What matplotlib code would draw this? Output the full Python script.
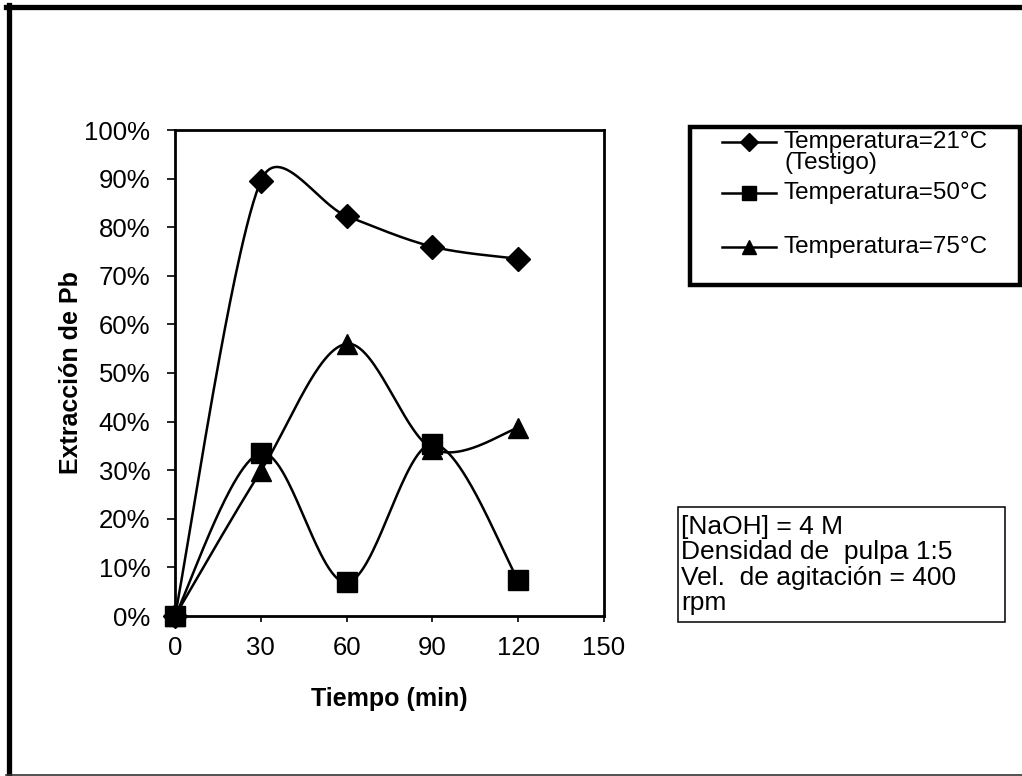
import numpy as np
import matplotlib.pyplot as plt
from matplotlib.lines import Line2D
from matplotlib.patches import Rectangle
from matplotlib.ticker import PercentFormatter

plt.rcParams['font.family'] = ['Liberation Sans', 'DejaVu Sans']

# --- DATA ---
tiempo = [0, 30, 60, 90, 120]
ext_21 = [0.000, 0.895, 0.823, 0.760, 0.735]
ext_50 = [0.000, 0.335, 0.069, 0.354, 0.074]
ext_75 = [0.000, 0.298, 0.560, 0.344, 0.387]

series = [
    ("Temperatura=21°C\n(Testigo)", ext_21, 'D', 12.5),
    ("Temperatura=50°C", ext_50, 's', 14.5),
    ("Temperatura=75°C", ext_75, '^', 14),
]

x_ticks = [0, 30, 60, 90, 120, 150]
y_ticks = np.arange(0, 1.01, 0.1)

nota = "[NaOH] = 4 M\nDensidad de  pulpa 1:5\nVel.  de agitación = 400\nrpm"


def smooth_curve(ax, xs, ys, n=60):
    """Excel-like smoothed line: cubic Bezier pieces built in display space."""
    pts = ax.transData.transform(np.column_stack([xs, ys]))
    m = len(pts)
    out = [pts[0]]
    for i in range(m - 1):
        p1, p2 = pts[i], pts[i + 1]
        seg = np.linalg.norm(p2 - p1)
        p0 = pts[i - 1] if i > 0 else p1
        p3 = pts[i + 2] if i + 2 < m else p2
        t1 = (p2 - p0) / 6.0
        t2 = (p3 - p1) / 6.0
        # keep control arms no longer than half the segment
        for t in (t1, t2):
            ln = np.linalg.norm(t)
            if ln > seg / 2:
                t *= (seg / 2) / ln
        c1 = p1 + t1
        c2 = p2 - t2
        s = np.linspace(0, 1, n)[1:, None]
        b = ((1 - s) ** 3) * p1 + 3 * ((1 - s) ** 2) * s * c1 \
            + 3 * (1 - s) * s ** 2 * c2 + s ** 3 * p2
        out.extend(b)
    out = ax.transData.inverted().transform(np.array(out))
    return out[:, 0], out[:, 1]


W, H = 1022, 776
fig = plt.figure(figsize=(W / 100, H / 100), dpi=100)

def fx(px):
    return px / W

def fy(py):
    return 1 - py / H

ax = fig.add_axes([fx(175), fy(616), fx(604) - fx(175), fy(130) - fy(616)])
ax.set_xlim(0, 150)
ax.set_ylim(0, 1)
ax.set_xticks(x_ticks)
ax.set_yticks(y_ticks)
ax.yaxis.set_major_formatter(PercentFormatter(1.0, decimals=0))
ax.tick_params(axis='both', direction='out', width=1.2, labelsize=18.5)
ax.tick_params(axis='y', length=5.8, pad=12)
ax.tick_params(axis='x', length=4.5, pad=10)
for sp in ax.spines.values():
    sp.set_linewidth(2)

for label, ys, mk, ms in series:
    sx, sy = smooth_curve(ax, tiempo, ys)
    ax.plot(sx, sy, color='black', lw=1.8, solid_capstyle='round')
    ax.plot(tiempo, ys, linestyle='none', marker=mk, markersize=ms,
            color='black', clip_on=False)

ax.set_xlabel("Tiempo (min)", fontsize=18, fontweight='bold', labelpad=19)
ax.set_ylabel("Extracción de Pb", fontsize=18, fontweight='bold', labelpad=1)

# outer frame of the chart
fig.add_artist(Line2D([fx(8.5), fx(8.5)], [fy(4.5), fy(776)], color='black',
                      lw=3.8, transform=fig.transFigure))
fig.add_artist(Line2D([fx(6), fx(1022)], [fy(6.5), fy(6.5)], color='black',
                      lw=3.8, transform=fig.transFigure))
fig.add_artist(Line2D([fx(6), fx(1022)], [fy(775), fy(775)], color='#333333',
                      lw=1.2, transform=fig.transFigure))

# legend box
fig.add_artist(Rectangle((fx(690), fy(285)), fx(1020) - fx(690), fy(127) - fy(285),
                         fill=False, lw=3.2, edgecolor='black',
                         transform=fig.transFigure))
rows_y = [142, 193, 247]
for (label, ys, mk, ms), ry in zip(series, rows_y):
    fig.add_artist(Line2D([fx(722), fx(776)], [fy(ry), fy(ry)], color='black',
                          lw=1.8, transform=fig.transFigure))
    fig.add_artist(Line2D([fx(748.5)], [fy(ry)], marker=mk, markersize=ms * 0.72,
                          color='black', linestyle='none', transform=fig.transFigure))
    fig.text(fx(784), fy(ry - 11), label, fontsize=17.5, va='top', ha='left',
             linespacing=0.97)

# conditions note
fig.text(fx(681), fy(515), nota, fontsize=19, va='top', ha='left',
         linespacing=1.07)
fig.add_artist(Rectangle((fx(678), fy(622)), fx(1005) - fx(678), fy(507) - fy(622),
                         fill=False, lw=1.1, edgecolor='black',
                         transform=fig.transFigure))

fig.savefig("out.png", dpi=100)
